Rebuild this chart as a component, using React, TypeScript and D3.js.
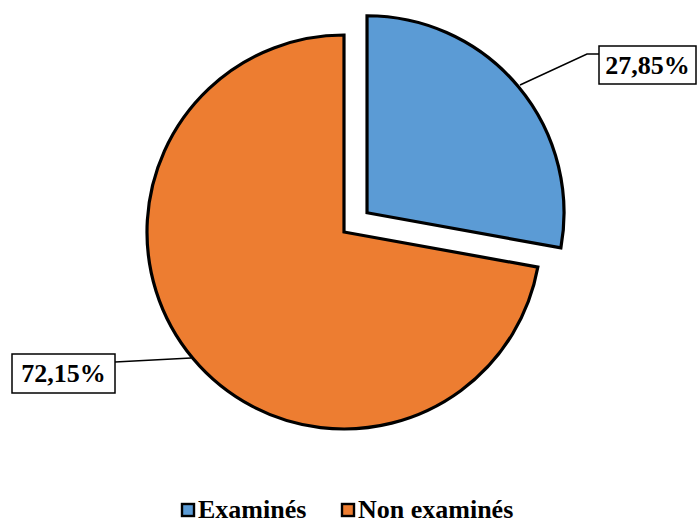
import React from "react";
import * as d3 from "d3";

const categories = ["Examinés", "Non examinés"];
const values = [27.85, 72.15];
const labels = ["27,85%", "72,15%"];
const colors = ["#5B9BD5", "#ED7D31"];

export default function App() {
  const W = 697, H = 523;
  const cx = 344, cy = 232, r = 197;
  const explode = 30;
  const pie = d3.pie<number>().sort(null).value((d) => d)(values);
  const arc = d3.arc<d3.PieArcDatum<number>>().innerRadius(0).outerRadius(r);

  const offsets = pie.map((p, i) => {
    if (i !== 0) return [0, 0];
    const mid = (p.startAngle + p.endAngle) / 2;
    return [Math.sin(mid) * explode, -Math.cos(mid) * explode];
  });

  const boxes = [
    { x: 599, y: 46, w: 97, h: 38, line: [[520, 85], [587, 54], [599, 54]] },
    { x: 12, y: 354, w: 103, h: 39, line: [[191, 358], [115, 362]] },
  ];

  const legendX = [180, 340];
  const ff = "'Times New Roman', Times, 'Liberation Serif', 'DejaVu Serif', serif";

  return (
    <svg width={W} height={H} style={{ position: "absolute", left: 0, top: 0, fontFamily: ff }}>
      <rect width={W} height={H} fill="#fff" />
      {pie.map((p, i) => (
        <path key={i} d={arc(p) || ""}
          transform={`translate(${cx + offsets[i][0]},${cy + offsets[i][1]})`}
          fill={colors[i]} stroke="#000" strokeWidth={3.2} strokeLinejoin="miter" />
      ))}
      {boxes.map((b, i) => (
        <g key={i}>
          <polyline points={b.line.map((pt) => pt.join(",")).join(" ")} fill="none" stroke="#000" strokeWidth={1.5} />
          <rect x={b.x} y={b.y} width={b.w} height={b.h} fill="#fff" stroke="#000" strokeWidth={1.5} />
          <text x={b.x + b.w / 2} y={b.y + 28} textAnchor="middle" fontWeight="bold" fontSize={26} style={{ fontFamily: ff }}>{labels[i]}</text>
        </g>
      ))}
      {categories.map((c, i) => (
        <g key={c}>
          <rect x={legendX[i] + 2} y={504} width={12} height={12} fill={colors[i]} stroke="#000" strokeWidth={2.4} />
          <text x={legendX[i] + 18} y={518} fontWeight="bold" fontSize={26} style={{ fontFamily: ff }}>{c}</text>
        </g>
      ))}
    </svg>
  );
}
